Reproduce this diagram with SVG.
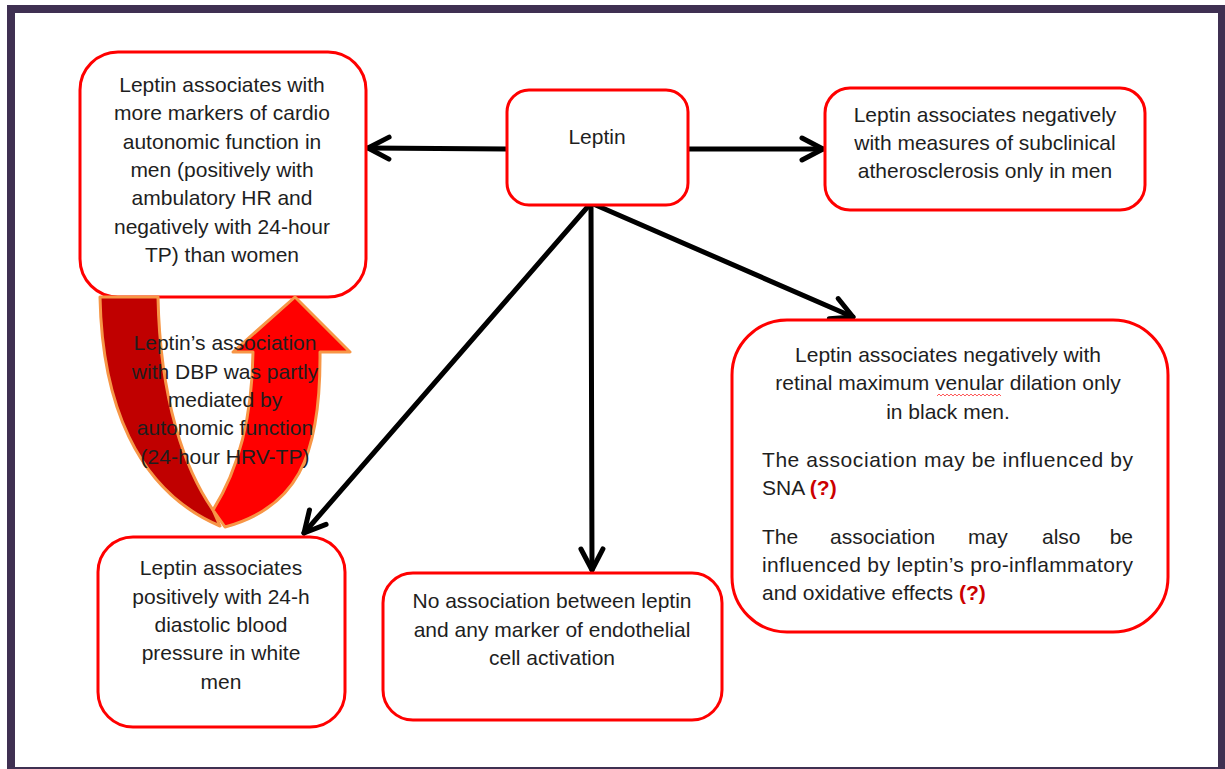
<svg xmlns="http://www.w3.org/2000/svg" width="1225" height="769" viewBox="0 0 1225 769">
<style>
.box{fill:#fff;stroke:#ff0000;stroke-width:3}
.t{font-family:"Liberation Sans",Arial,sans-serif;font-size:21px;fill:#1e1e1e}
.c{text-anchor:middle}
.q{fill:#cc0000;font-weight:bold}
.conn{stroke:#000;stroke-width:5;fill:none;stroke-linecap:round}
.uarm{stroke:#f79646;stroke-width:3;stroke-linejoin:round}
</style>
<defs>
<marker id="ah" markerUnits="userSpaceOnUse" markerWidth="30" markerHeight="30" refX="22" refY="11" orient="auto" overflow="visible">
<path d="M1,0 L22,11 L1,22" fill="none" stroke="#000" stroke-width="5" stroke-linecap="round" stroke-linejoin="round"/>
</marker>
</defs>
<rect x="0" y="0" width="1225" height="769" fill="#fff"/>
<rect x="11" y="9" width="1211" height="762" fill="#fff" stroke="#3f3052" stroke-width="8"/>

<g id="connectors">
<line class="conn" x1="507" y1="149" x2="368" y2="148" marker-end="url(#ah)"/>
<line class="conn" x1="688" y1="149" x2="823" y2="149" marker-end="url(#ah)"/>
<line class="conn" x1="591" y1="203" x2="304" y2="533" marker-end="url(#ah)"/>
<line class="conn" x1="591" y1="203" x2="592" y2="570" marker-end="url(#ah)"/>
<line class="conn" x1="591" y1="203" x2="853" y2="317" marker-end="url(#ah)"/>
</g>

<g id="node-leptin">
<rect class="box" x="507" y="90" width="181" height="115" rx="22"/>
<text class="t c" x="597" y="144">Leptin</text>
</g>

<g id="node-cardio">
<rect class="box" x="80" y="52" width="286" height="245" rx="38"/>
<text class="t c" x="222" y="92">Leptin associates with</text>
<text class="t c" x="222" y="120">more markers of cardio</text>
<text class="t c" x="222" y="149">autonomic function in</text>
<text class="t c" x="222" y="177">men (positively with</text>
<text class="t c" x="222" y="205">ambulatory HR and</text>
<text class="t c" x="222" y="234">negatively with 24-hour</text>
<text class="t c" x="222" y="262">TP) than women</text>
</g>

<g id="node-athero">
<rect class="box" x="825" y="88" width="320" height="122" rx="25"/>
<text class="t c" x="985" y="122">Leptin associates negatively</text>
<text class="t c" x="985" y="150">with measures of subclinical</text>
<text class="t c" x="985" y="178">atherosclerosis only in men</text>
</g>

<g id="node-mediation">
<path class="uarm" d="M100,297 L158,297 C160,400 185,470 213,510 L220,526 C135,490 102,400 100,297 Z" fill="#c00000"/>
<path class="uarm" d="M213,510 C232,480 252,430 253,352 L233,352 L295,297 L350,352 L320,352 C321,460 295,508 225,527 Z" fill="#ff0000"/>
<text class="t c" x="225" y="350">Leptin’s association</text>
<text class="t c" x="225" y="379">with DBP was partly</text>
<text class="t c" x="225" y="407">mediated by</text>
<text class="t c" x="225" y="435">autonomic function</text>
<text class="t c" x="225" y="464">(24-hour HRV-TP)</text>
</g>

<g id="node-retinal">
<rect class="box" x="732" y="320" width="436" height="312" rx="55"/>
<text class="t c" x="948" y="362">Leptin associates negatively with</text>
<text class="t c" x="948" y="390">retinal maximum venular dilation only</text>
<path d="M937,396 l2,-2 l2,2 l2,-2 l2,2 l2,-2 l2,2 l2,-2 l2,2 l2,-2 l2,2 l2,-2 l2,2 l2,-2 l2,2 l2,-2 l2,2 l2,-2 l2,2 l2,-2 l2,2 l2,-2 l2,2 l2,-2 l2,2 l2,-2 l2,2 l2,-2 l2,2 l2,-2 l2,2 l2,-2 l2,2" fill="none" stroke="#ff3030" stroke-width="0.8"/>
<text class="t c" x="948" y="419">in black men.</text>
<text class="t" x="762" y="467" textLength="371" lengthAdjust="spacing">The association may be influenced by</text>
<text class="t" x="762" y="495">SNA <tspan class="q">(?)</tspan></text>
<text class="t" x="762" y="544">The</text>
<text class="t" x="830" y="544">association</text>
<text class="t" x="968" y="544">may</text>
<text class="t" x="1042" y="544">also</text>
<text class="t" x="1133" y="544" text-anchor="end">be</text>
<text class="t" x="762" y="572" textLength="371" lengthAdjust="spacing">influenced by leptin’s pro-inflammatory</text>
<text class="t" x="762" y="600">and oxidative effects <tspan class="q">(?)</tspan></text>
</g>

<g id="node-dbp">
<rect class="box" x="98" y="537" width="247" height="190" rx="35"/>
<text class="t c" x="221" y="575">Leptin associates</text>
<text class="t c" x="221" y="604">positively with 24-h</text>
<text class="t c" x="221" y="632">diastolic blood</text>
<text class="t c" x="221" y="660">pressure in white</text>
<text class="t c" x="221" y="689">men</text>
</g>

<g id="node-endothelial">
<rect class="box" x="383" y="573" width="339" height="147" rx="30"/>
<text class="t c" x="552" y="608">No association between leptin</text>
<text class="t c" x="552" y="637">and any marker of endothelial</text>
<text class="t c" x="552" y="665">cell activation</text>
</g>
</svg>
